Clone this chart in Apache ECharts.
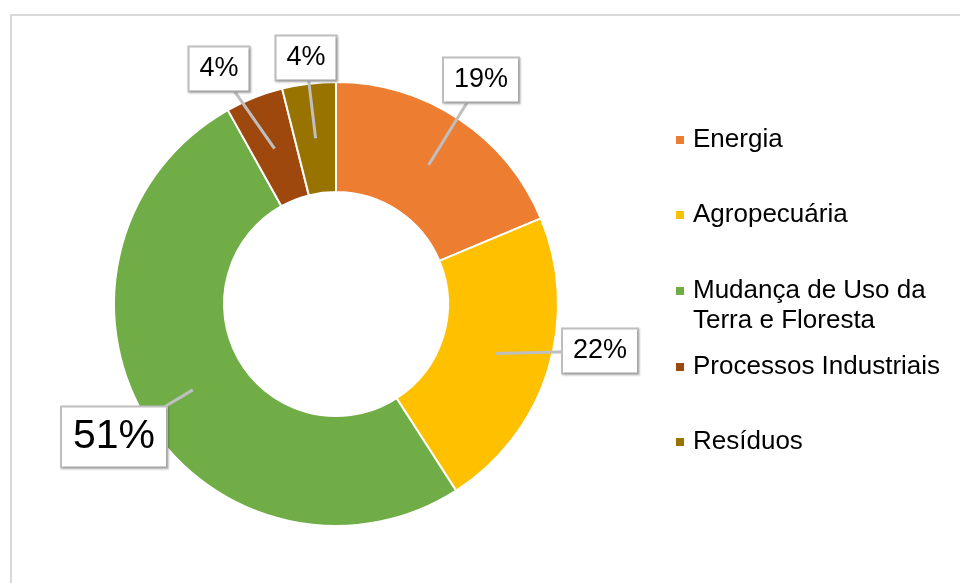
<!DOCTYPE html>
<html>
<head>
<meta charset="utf-8">
<script src="https://cdn.jsdelivr.net/npm/echarts@6/dist/echarts.min.js"></script>
<style>
html,body{margin:0;padding:0;background:#fff}
#chart{width:960px;height:583px}
</style>
</head>
<body>
<div id="chart"></div>
<script>
// data
var categories = ["Energia", "Agropecuária", "Mudança de Uso da Terra e Floresta", "Processos Industriais", "Resíduos"];
var shares = [18.7, 22.2, 51.0, 4.2, 3.9];
var colors = ["#ED7D31", "#FFC000", "#70AD47", "#9E480E", "#997300"];

// layout of the callouts / legend (px)
var boxPos = [[481, 80], [600, 351], [114, 437], [219, 69], [306, 58]];
var boxFont = [27, 27, 41, 27, 27];
var legendY = [140, 215, 291, 367, 442];

var FONT = "'Liberation Sans', Arial, sans-serif";
var myChart = echarts.init(document.getElementById("chart"));

var ringData = categories.map(function (n, i) {
  return { name: n, value: shares[i], itemStyle: { color: colors[i] } };
});
var calloutData = categories.map(function (n, i) {
  var big = boxFont[i] > 30;
  return {
    name: n, value: shares[i],
    label: { fontSize: boxFont[i], lineHeight: boxFont[i] + 2, padding: big ? [8, 11] : [7, 10] }
  };
});

var legends = categories.map(function (n, i) {
  var twoLine = n.indexOf("Floresta") >= 0;
  return {
    data: [n],
    left: 676,
    top: legendY[i] - 15,
    padding: 0,
    selectedMode: false,
    itemWidth: 8,
    itemHeight: twoLine ? 38 : 8,
    icon: twoLine ? "path://M0,0L8,0L8,8L0,8Z M0,38L0.001,38" : "rect",
    itemStyle: { borderWidth: 0 },
    textStyle: { fontFamily: FONT, fontSize: 26, lineHeight: 30, color: "#000", padding: [0, 0, 0, 4] },
    formatter: function (name) { return name.replace(" da ", " da\n"); }
  };
});

var option = {
  animation: false,
  backgroundColor: "#fff",
  graphic: [{
    type: "rect", silent: true, z: -1,
    shape: { x: 11, y: 15, width: 1000, height: 1000 },
    style: { fill: "none", stroke: "#d9d9d9", lineWidth: 2 }
  }],
  legend: legends,
  series: [
    {
      type: "pie",
      center: [336, 304],
      radius: [112, 222],
      startAngle: 90,
      silent: true,
      itemStyle: { borderColor: "#fff", borderWidth: 2 },
      label: { show: false },
      labelLine: { show: false },
      emphasis: { disabled: true },
      data: ringData
    },
    {
      // same slices, invisible, only carries the callout labels
      type: "pie",
      center: [336, 304],
      radius: [0, 167],
      startAngle: 90,
      percentPrecision: 0,
      silent: true,
      z: 3,
      itemStyle: { color: "rgba(0,0,0,0)" },
      emphasis: { disabled: true },
      label: {
        show: true,
        position: "outside",
        formatter: "{d}%",
        color: "#000",
        fontFamily: FONT,
        backgroundColor: "#fff",
        borderColor: "#bfbfbf",
        borderWidth: 2,
        shadowColor: "rgba(0,0,0,0.2)",
        shadowBlur: 2,
        shadowOffsetX: 1,
        shadowOffsetY: 1
      },
      labelLine: { show: true, length: 10, length2: 10, lineStyle: { color: "#bfbfbf", width: 3 } },
      labelLayout: function (p) {
        var c = boxPos[p.dataIndex];
        var tip = p.labelLinePoints[0];
        return {
          x: c[0], y: c[1], align: "center", verticalAlign: "middle",
          labelLinePoints: [tip, [(tip[0] + c[0]) / 2, (tip[1] + c[1]) / 2], c]
        };
      },
      data: calloutData
    }
  ]
};
if (option && typeof option === "object") {
  myChart.setOption(option);
}
</script>
</body>
</html>
